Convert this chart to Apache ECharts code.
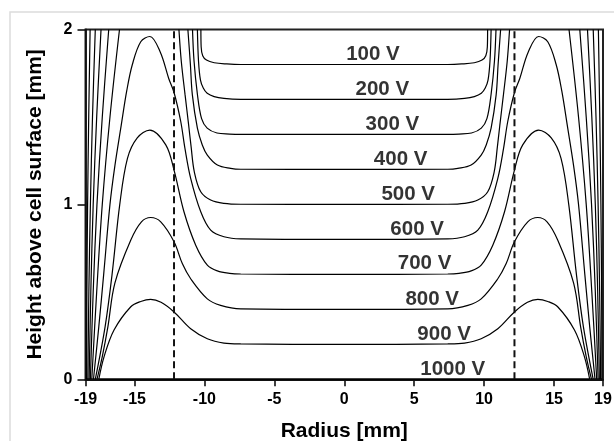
<!DOCTYPE html>
<html><head><meta charset="utf-8">
<script src="https://cdn.jsdelivr.net/npm/echarts@6/dist/echarts.min.js"></script>
<style>html,body{margin:0;padding:0;background:#fff}#c{width:614px;height:441px}</style>
</head><body><div id="c"></div>
<script>
// ---- axis ticks ----
const xTickValues = [-18.5, -15, -10, -5, 0, 5, 10, 15, 18.5];
const xTickLabels = ['-19', '-15', '-10', '-5', '0', '5', '10', '15', '19'];
const yTickValues = [0, 1, 2];
const dashX = [-12.17, 12.17];

// ---- curve labels ----
const labelNames = ['100 V','200 V','300 V','400 V','500 V','600 V','700 V','800 V','900 V','1000 V'];
const labelX = [2.05, 2.72, 3.44, 4.03, 4.57, 5.21, 5.74, 6.29, 7.14, 7.76];
const labelY = [1.86, 1.658, 1.458, 1.258, 1.058, 0.859, 0.661, 0.458, 0.258, 0.058];

// ---- equipotential lines [radius, height] ----
const v100_farL = [[-18.42,0],[-18.4,0.5],[-18.35,1.0],[-18.27,1.5],[-18.17,2.0]];
const v100_mid = [[-10.25,2.0],[-10.23,1.9],[-10.12,1.85],[-9.85,1.825],[-9.3,1.81],[-8.4,1.803],[-7.4,1.8],[0,1.8],[7.4,1.8],[8.4,1.803],[9.3,1.81],[9.85,1.825],[10.12,1.85],[10.23,1.9],[10.25,2.0]];
const v100_farR = [[18.17,2.0],[18.27,1.5],[18.35,1.0],[18.4,0.5],[18.42,0]];

const v200_farL = [[-18.33,0],[-18.26,0.5],[-18.15,1.0],[-18.0,1.5],[-17.8,2.0]];
const v200_mid = [[-10.5,2.0],[-10.42,1.82],[-10.28,1.71],[-10.08,1.665],[-9.8,1.635],[-9.3,1.616],[-8.6,1.606],[-7.4,1.601],[0,1.6],[7.4,1.601],[8.6,1.606],[9.3,1.616],[9.8,1.635],[10.08,1.665],[10.28,1.71],[10.42,1.82],[10.5,2.0]];
const v200_farR = [[17.8,2.0],[18.0,1.5],[18.15,1.0],[18.26,0.5],[18.33,0]];

const v300_farL = [[-18.24,0],[-18.12,0.5],[-17.95,1.0],[-17.7,1.5],[-17.39,2.0]];
const v300_mid = [[-10.85,2.0],[-10.74,1.82],[-10.5,1.63],[-10.2,1.49],[-9.8,1.436],[-9.1,1.408],[-8.2,1.402],[-7.4,1.4],[0,1.4],[7.4,1.4],[8.2,1.402],[9.1,1.408],[9.8,1.436],[10.2,1.49],[10.5,1.63],[10.74,1.82],[10.85,2.0]];
const v300_farR = [[17.39,2.0],[17.7,1.5],[17.95,1.0],[18.12,0.5],[18.24,0]];

const v400_farL = [[-18.15,0],[-17.95,0.5],[-17.68,1.0],[-17.3,1.5],[-16.84,2.0]];
const v400_mid = [[-11.18,2.0],[-11.0,1.8],[-10.86,1.626],[-10.5,1.436],[-10.15,1.34],[-9.79,1.282],[-9.07,1.225],[-8.12,1.206],[-7.4,1.201],[0,1.2],[7.4,1.201],[8.12,1.206],[9.07,1.225],[9.79,1.282],[10.15,1.34],[10.5,1.436],[10.86,1.626],[11.0,1.8],[11.18,2.0]];
const v400_farR = [[16.84,2.0],[17.3,1.5],[17.68,1.0],[17.95,0.5],[18.15,0]];

const v500_farL = [[-18.05,0],[-17.7,0.5],[-17.3,1.0],[-16.75,1.5],[-16.07,2.0]];
const v500_mid = [[-11.82,2.0],[-11.65,1.817],[-11.38,1.626],[-11.12,1.45],[-10.95,1.33],[-10.72,1.186],[-10.26,1.072],[-9.55,1.025],[-8.6,1.006],[-7.4,1.001],[0,1.0],[7.4,1.001],[8.6,1.006],[9.55,1.025],[10.26,1.072],[10.72,1.186],[10.95,1.33],[11.12,1.45],[11.38,1.626],[11.65,1.817],[11.82,2.0]];
const v500_farR = [[16.07,2.0],[16.75,1.5],[17.3,1.0],[17.7,0.5],[18.05,0]];

const v600 = [[-17.93,0],[-17.55,0.3],[-17.2,0.6],[-16.75,1.0],[-16.4,1.22],[-15.95,1.45],[-15.55,1.65],[-15.15,1.8],[-14.55,1.93],[-13.9,1.96],[-13.15,1.87],[-12.55,1.72],[-12.17,1.64],[-11.69,1.474],[-11.39,1.32],[-10.98,1.149],[-10.26,0.958],[-9.55,0.853],[-8.6,0.815],[-7.4,0.803],[0,0.8],[7.4,0.803],[8.6,0.815],[9.55,0.853],[10.26,0.958],[10.98,1.149],[11.39,1.32],[11.69,1.474],[12.17,1.64],[12.55,1.72],[13.15,1.87],[13.9,1.96],[14.55,1.93],[15.15,1.8],[15.55,1.65],[15.95,1.45],[16.4,1.22],[16.75,1.0],[17.2,0.6],[17.55,0.3],[17.93,0]];

const v700 = [[-17.8,0],[-17.1,0.3],[-16.6,0.6],[-16.05,1.0],[-15.5,1.263],[-14.8,1.38],[-13.9,1.425],[-12.76,1.34],[-12.17,1.196],[-11.46,0.958],[-10.62,0.767],[-9.79,0.653],[-9.07,0.62],[-8.2,0.606],[-7.4,0.602],[0,0.6],[7.4,0.602],[8.2,0.606],[9.07,0.62],[9.79,0.653],[10.62,0.767],[11.46,0.958],[12.17,1.196],[12.76,1.34],[13.9,1.425],[14.8,1.38],[15.5,1.263],[16.05,1.0],[16.6,0.6],[17.1,0.3],[17.8,0]];

const v800 = [[-17.68,0],[-17.3,0.13],[-16.9,0.3],[-16.4,0.55],[-15.26,0.796],[-14.5,0.9],[-13.84,0.925],[-13.12,0.9],[-12.17,0.786],[-11.57,0.66],[-10.98,0.575],[-9.79,0.46],[-8.84,0.423],[-7.4,0.403],[0,0.4],[7.4,0.403],[8.84,0.423],[9.79,0.46],[10.98,0.575],[11.57,0.66],[12.17,0.786],[13.12,0.9],[13.84,0.925],[14.5,0.9],[15.26,0.796],[16.4,0.55],[16.9,0.3],[17.3,0.13],[17.68,0]];

const v900 = [[-17.55,0],[-17.17,0.13],[-16.46,0.282],[-15.26,0.415],[-14.55,0.445],[-13.84,0.457],[-13.1,0.44],[-12.17,0.385],[-10.98,0.289],[-9.79,0.232],[-8.6,0.207],[-7.4,0.202],[0,0.2],[7.4,0.202],[8.6,0.207],[9.79,0.232],[10.98,0.289],[12.17,0.385],[13.1,0.44],[13.84,0.457],[14.55,0.445],[15.26,0.415],[16.46,0.282],[17.17,0.13],[17.55,0]];

const v1000 = [[-17.5,0],[0,0],[17.5,0]];

const curveParts = [v100_farL, v100_mid, v100_farR, v200_farL, v200_mid, v200_farR,
  v300_farL, v300_mid, v300_farR, v400_farL, v400_mid, v400_farR,
  v500_farL, v500_mid, v500_farR, v600, v700, v800, v900, v1000];

const FONT = "'Liberation Sans', Arial, Helvetica, sans-serif";
const chart = echarts.init(document.getElementById('c'), null, {renderer: 'canvas'});

const series = [];
curveParts.forEach(function (p) {
  series.push({
    type: 'line', data: p, showSymbol: false, smooth: 0.35, silent: true,
    lineStyle: {color: '#000', width: 1.2}, z: 3
  });
});
dashX.forEach(function (x) {
  series.push({
    type: 'line', data: [[x, 0], [x, 2]], showSymbol: false, silent: true,
    lineStyle: {color: '#111', width: 2, type: [7, 4]}, z: 3
  });
});
series.push({
  type: 'scatter', symbolSize: 0, silent: true, z: 5,
  data: labelNames.map(function (n, i) { return [labelX[i], labelY[i], n]; }),
  label: {show: true, position: 'inside', formatter: function (p) { return p.value[2]; },
    fontSize: 20.5, fontWeight: 'bold', color: '#000', fontFamily: FONT}
});

chart.setOption({
  animation: false,
  backgroundColor: '#fff',
  textStyle: {fontFamily: FONT},
  graphic: [{type: 'rect', silent: true, z: -10,
    shape: {x: 10, y: 12, width: 700, height: 600},
    style: {fill: 'none', stroke: '#dcdcdc', lineWidth: 1.5}}],
  grid: {left: 85.5, right: 11, top: 29.5, bottom: 61.7, show: true,
    borderColor: '#222', borderWidth: 2, containLabel: false, outerBoundsMode: 'none'},
  xAxis: {
    type: 'value', min: -18.5, max: 18.5,
    name: 'Radius [mm]', nameLocation: 'middle', nameGap: 41,
    nameTextStyle: {fontSize: 21, fontWeight: 'bold', color: '#000', fontFamily: FONT},
    axisLine: {show: true, onZero: false, lineStyle: {color: '#111', width: 1.8}},
    axisTick: {show: true, customValues: xTickValues, length: 7, lineStyle: {color: '#111', width: 1.6}},
    axisLabel: {customValues: xTickValues, margin: 12, fontSize: 16, fontWeight: 'bold', color: '#000', fontFamily: FONT,
      formatter: function (v) { const i = xTickValues.indexOf(v); return i >= 0 ? xTickLabels[i] : ''; }},
    splitLine: {show: false}
  },
  yAxis: {
    type: 'value', min: 0, max: 2, interval: 1,
    name: 'Height above cell surface [mm]', nameLocation: 'middle', nameGap: 40,
    nameTextStyle: {fontSize: 21, fontWeight: 'bold', color: '#000', fontFamily: FONT},
    axisLine: {show: true, onZero: false, lineStyle: {color: '#111', width: 1.8}},
    axisTick: {show: true, customValues: yTickValues, length: 8, lineStyle: {color: '#111', width: 1.6}},
    axisLabel: {margin: 13, fontSize: 16, fontWeight: 'bold', color: '#000', fontFamily: FONT},
    splitLine: {show: false}
  },
  series: series
});
</script></body></html>
